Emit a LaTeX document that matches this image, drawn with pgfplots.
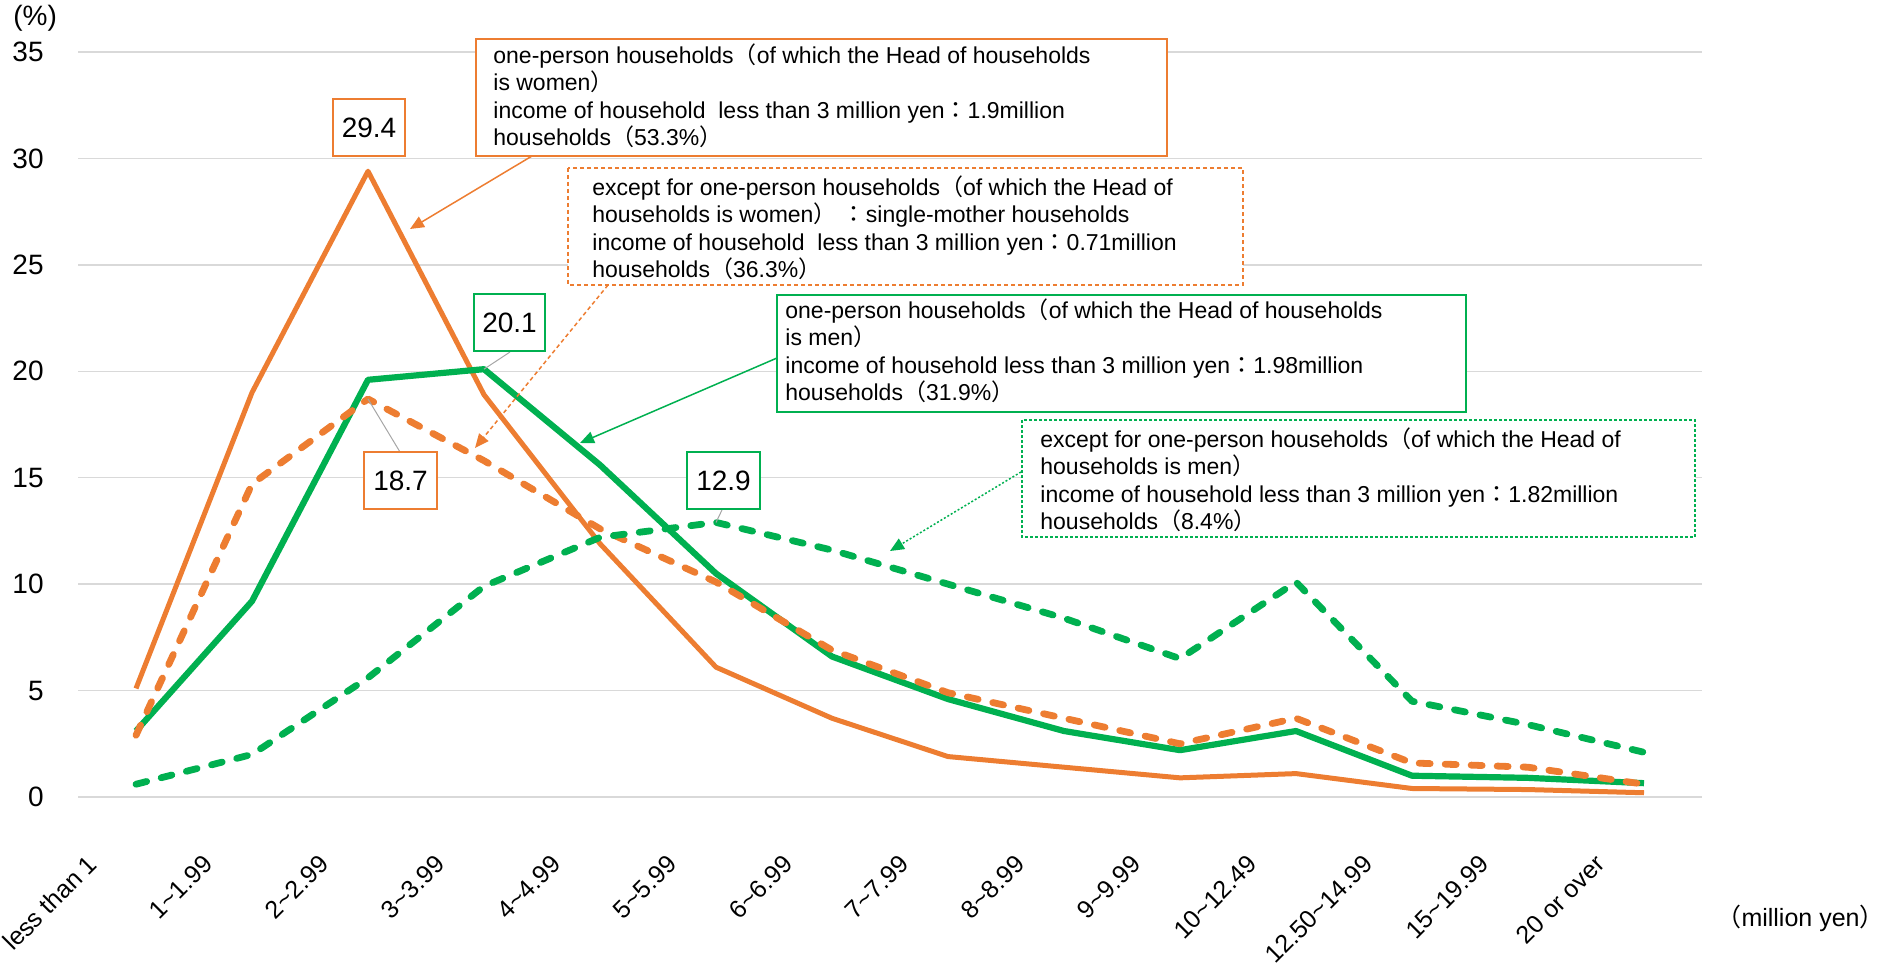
\documentclass[border=0pt]{standalone}
\usepackage{fontspec}
\setmainfont{Liberation Sans}
\newfontfamily\cjk{Noto Sans CJK JP}
\usepackage{pgfplots}
\pgfplotsset{compat=1.18}
\usetikzlibrary{arrows.meta}
\definecolor{cOr}{HTML}{ED7D31}
\definecolor{cGr}{HTML}{00B050}
\definecolor{cGrid}{HTML}{D9D9D9}
\definecolor{cLead}{HTML}{A6A6A6}
\newcommand{\lp}{{\cjk （}}
\newcommand{\rp}{{\cjk ）}}
\newcommand{\fc}{{\cjk ：}}
\newcommand{\annfont}{\fontsize{11.5}{13.75}\selectfont}
\newcommand{\catfont}{\fontsize{12.5}{14}\selectfont}
\newcommand{\numfont}{\fontsize{14}{16}\selectfont}
\begin{document}
\begin{tikzpicture}
\useasboundingbox (0,0) rectangle (944pt,485.5pt);
\begin{axis}[
  at={(39pt,87pt)}, anchor=south west,
  width=812pt, height=372.5pt, scale only axis,
  xmin=-0.5, xmax=13.5, ymin=0, ymax=35,
  ytick={0,5,10,15,20,25,30,35},
  xtick={0,1,2,3,4,5,6,7,8,9,10,11,12,13},
  xticklabels={less than 1,1\textasciitilde1.99,2\textasciitilde2.99,3\textasciitilde3.99,4\textasciitilde4.99,5\textasciitilde5.99,6\textasciitilde6.99,7\textasciitilde7.99,8\textasciitilde8.99,9\textasciitilde9.99,10\textasciitilde12.49,12.50\textasciitilde14.99,15\textasciitilde19.99,20 or over},
  axis line style={draw=none},
  major tick length=0pt,
  ymajorgrids, grid style={draw=cGrid, line width=0.75pt},
  /pgf/number format/assume math mode=true,
  yticklabel style={font=\numfont, anchor=east, inner sep=0pt, xshift=-17pt},
  xticklabel style={font=\catfont, xshift=-25pt, yshift=-28pt, rotate=45, anchor=north east, inner sep=0pt},
  clip=false,
]
\addplot[cOr, line width=2.5pt, line join=round] coordinates {
 (0,5.1) (1,19.0) (2,29.4) (3,18.9) (4,11.9) (5,6.1) (6,3.7) (7,1.9) (8,1.4) (9,0.9) (10,1.1) (11,0.4) (12,0.35) (13,0.2)};
\addplot[cGr, line width=3.1pt, line join=round] coordinates {
 (0,3.1) (1,9.2) (2,19.6) (3,20.1) (4,15.6) (5,10.5) (6,6.6) (7,4.6) (8,3.1) (9,2.2) (10,3.1) (11,1.0) (12,0.9) (13,0.65)};
\addplot[cOr, line width=3.4pt, line join=round, line cap=round, dash pattern=on 5.5pt off 7.5pt] coordinates {
 (0,2.9) (1,14.7) (2,18.7) (3,15.8) (4,12.6) (5,10.1) (6,6.9) (7,4.9) (8,3.7) (9,2.5) (10,3.7) (11,1.6) (12,1.4) (13,0.6)};
\addplot[cGr, line width=3.4pt, line join=round, line cap=round, dash pattern=on 5.5pt off 7.5pt] coordinates {
 (0,0.6) (1,2.0) (2,5.6) (3,9.9) (4,12.2) (5,12.9) (6,11.6) (7,10.0) (8,8.4) (9,6.5) (10,10.1) (11,4.5) (12,3.4) (13,2.1)};
\coordinate (p201) at (axis cs:3,20.1);
\coordinate (p187) at (axis cs:2,18.7);
\coordinate (p129) at (axis cs:5,12.9);
\end{axis}
% axis unit labels
\node[anchor=west, inner sep=0pt, font=\fontsize{14}{16}\selectfont] at (6.5pt,476.5pt) {(\%)};
\node[anchor=east, inner sep=0pt, font=\fontsize{12.5}{14}\selectfont] at (942.5pt,26.5pt) {\lp million yen\rp};
% data label boxes
\draw[cLead, line width=0.5pt] (255pt,309.5pt) -- (p201);
\draw[cLead, line width=0.5pt] (200pt,259.5pt) -- (p187);
\draw[cLead, line width=0.5pt] (361pt,230.5pt) -- (p129);
\draw[cOr, line width=0.75pt, fill=white] (166.5pt,436pt) rectangle (202.5pt,407.5pt);
\node[font=\numfont, inner sep=0pt] at (184.5pt,421.75pt) {29.4};
\draw[cGr, line width=0.75pt, fill=white] (237pt,338.5pt) rectangle (272.5pt,310pt);
\node[font=\numfont, inner sep=0pt] at (254.75pt,324.25pt) {20.1};
\draw[cOr, line width=0.75pt, fill=white] (182pt,259.5pt) rectangle (218.5pt,231pt);
\node[font=\numfont, inner sep=0pt] at (200.25pt,245.25pt) {18.7};
\draw[cGr, line width=0.75pt, fill=white] (343.5pt,259.5pt) rectangle (380pt,231pt);
\node[font=\numfont, inner sep=0pt] at (361.75pt,245.25pt) {12.9};
% annotation A
\draw[cOr, line width=0.75pt, -{Triangle[length=7pt,width=6pt]}] (266pt,407.5pt) -- (205pt,371pt);
\draw[cOr, line width=0.75pt, fill=white] (238pt,466pt) rectangle (583.5pt,407.5pt);
\node[anchor=west, align=left, inner sep=0pt, font=\annfont] at (246.5pt,437.5pt) {one-person households\lp of which the Head of households\\is women\rp\\income of household\ \ less than 3 million yen\fc 1.9million\\households\lp 53.3\%\rp};
% annotation B
\draw[cOr, line width=0.75pt, dash pattern=on 2pt off 1.5pt, -{Triangle[length=7pt,width=6pt]}] (304pt,343pt) -- (237.5pt,261.5pt);
\draw[cOr, line width=0.75pt, dash pattern=on 2pt off 1.5pt, fill=white] (284pt,401.5pt) rectangle (621.5pt,343pt);
\node[anchor=west, align=left, inner sep=0pt, font=\annfont] at (296pt,371.5pt) {except for one-person households\lp of which the Head of\\households is women\rp\ \fc single-mother households\\income of household\ \ less than 3 million yen\fc 0.71million\\households\lp 36.3\%\rp};
% annotation C
\draw[cGr, line width=0.75pt, -{Triangle[length=7pt,width=6pt]}] (388.5pt,306.5pt) -- (290pt,264pt);
\draw[cGr, line width=0.75pt, fill=white] (388.5pt,338pt) rectangle (733pt,279.5pt);
\node[anchor=west, align=left, inner sep=0pt, font=\annfont] at (392.5pt,310pt) {one-person households\lp of which the Head of households\\is men\rp\\income of household less than 3 million yen\fc 1.98million\\households\lp 31.9\%\rp};
% annotation D
\draw[cGr, line width=0.75pt, dash pattern=on 1pt off 1pt, -{Triangle[length=7pt,width=6pt]}] (510.5pt,249.5pt) -- (445pt,210pt);
\draw[cGr, line width=0.75pt, dash pattern=on 1.5pt off 1pt, fill=white] (511pt,275.5pt) rectangle (847.5pt,217pt);
\node[anchor=west, align=left, inner sep=0pt, font=\annfont] at (520pt,245.5pt) {except for one-person households\lp of which the Head of\\households is men\rp\\income of household less than 3 million yen\fc 1.82million\\households\lp 8.4\%\rp};
\end{tikzpicture}
\end{document}
